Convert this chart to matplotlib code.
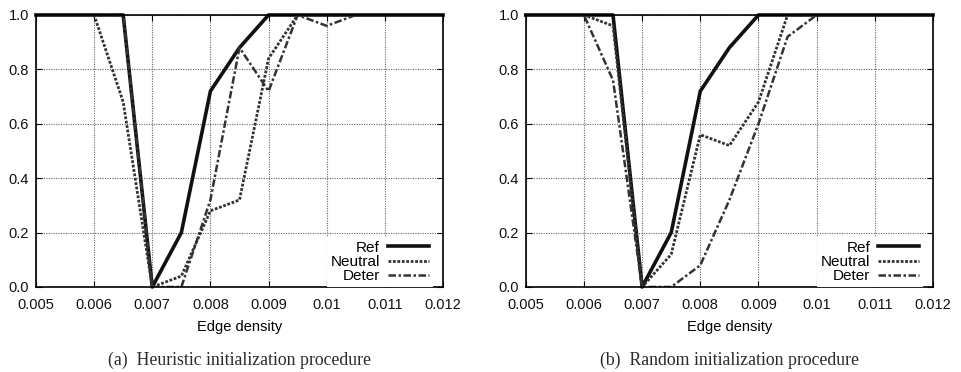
import matplotlib
matplotlib.use("Agg")
import matplotlib.pyplot as plt

# edge densities sampled in both experiments
density = [0.005, 0.0055, 0.006, 0.0065, 0.007, 0.0075, 0.008, 0.0085,
           0.009, 0.0095, 0.01, 0.0105, 0.011, 0.0115, 0.012]

# (a) heuristic initialization
ref_a = [1, 1, 1, 1, 0, 0.2, 0.72, 0.88, 1, 1, 1, 1, 1, 1, 1]
neutral_a = [1, 1, 1, 0.68, 0, 0.04, 0.28, 0.32, 0.84, 1, 1, 1, 1, 1, 1]
deter_a = [1, 1, 1, 1, 0, 0, 0.32, 0.88, 0.72, 1, 0.96, 1, 1, 1, 1]

# (b) random initialization
ref_b = [1, 1, 1, 1, 0, 0.2, 0.72, 0.88, 1, 1, 1, 1, 1, 1, 1]
neutral_b = [1, 1, 1, 0.96, 0, 0.12, 0.56, 0.52, 0.68, 1, 1, 1, 1, 1, 1]
deter_b = [1, 1, 1, 0.76, 0, 0, 0.08, 0.32, 0.6, 0.92, 1, 1, 1, 1, 1]

xticks = [0.005, 0.006, 0.007, 0.008, 0.009, 0.01, 0.011, 0.012]
xlabels = ["0.005", "0.006", "0.007", "0.008", "0.009", "0.01", "0.011", "0.012"]
yticks = [0.0, 0.2, 0.4, 0.6, 0.8, 1.0]
captions = ["(a)  Heuristic initialization procedure",
            "(b)  Random initialization procedure"]

plt.rcParams["font.family"] = ["Liberation Sans", "DejaVu Sans"]


def draw_panel(ax, ref, neutral, deter, caption):
    ax.plot(density, ref, color="#111111", lw=2.6, label="Ref", clip_on=False)
    ax.plot(density, neutral, color="#333333", lw=2.0,
            linestyle=(0, (1.0, 0.6)), label="Neutral")
    ax.plot(density, deter, color="#333333", lw=1.8,
            linestyle=(0, (3.0, 1.0, 1.0, 1.0)), label="Deter")
    ax.set_xlim(0.005, 0.012)
    ax.set_ylim(0, 1)
    ax.set_xticks(xticks)
    ax.set_xticklabels(xlabels)
    ax.set_yticks(yticks)
    ax.set_yticklabels([f"{v:.1f}" for v in yticks])
    ax.tick_params(direction="in", length=4, labelsize=10.5,
                   top=True, right=True, labelcolor="#111111")
    ax.tick_params(axis="x", pad=8)
    ax.tick_params(axis="y", pad=5)
    ax.grid(True, color="#666666", linestyle=(0, (1, 1.2)), lw=0.8)
    for s in ax.spines.values():
        s.set_linewidth(1.2)
    ax.set_xlabel("Edge density", fontsize=10.5, labelpad=6)
    leg = ax.legend(loc="lower right", bbox_to_anchor=(0.975, 0.0),
                    markerfirst=False, fontsize=11, frameon=True,
                    fancybox=False, framealpha=1, edgecolor="none",
                    handlelength=2.7, handletextpad=0.5, labelspacing=0.02,
                    borderaxespad=0.0, borderpad=0.25)
    for t in leg.get_texts():
        t.set_ha("right")
    ax.text(0.5, -0.268, caption, transform=ax.transAxes, ha="center",
            va="center", fontsize=12.8, family="Liberation Serif",
            color="#2a2a2a")


fig = plt.figure(figsize=(9.62, 3.72), dpi=100)
ax1 = fig.add_axes([0.0374, 0.2285, 0.4231, 0.7312])
ax2 = fig.add_axes([0.5465, 0.2285, 0.4234, 0.7312])
draw_panel(ax1, ref_a, neutral_a, deter_a, captions[0])
draw_panel(ax2, ref_b, neutral_b, deter_b, captions[1])

fig.savefig("out.png", dpi=100)
